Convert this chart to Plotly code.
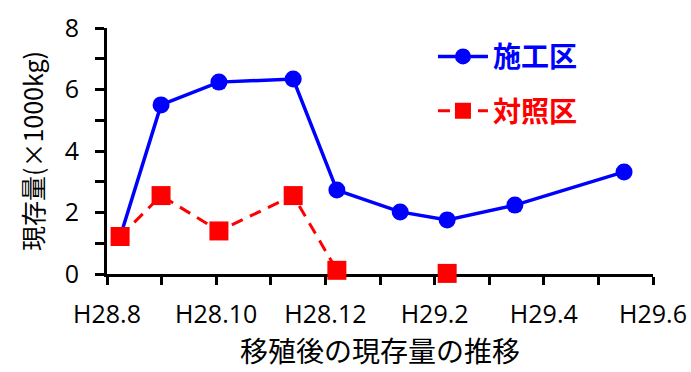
import plotly.graph_objects as go

# Survey timing, in months elapsed since H28.8
months_treated = [0.24, 0.99, 2.05, 3.41, 4.21, 5.37, 6.23, 7.47, 9.47]
stock_treated = [1.2, 5.5, 6.24, 6.34, 2.73, 2.02, 1.76, 2.24, 3.32]

months_control = [0.24, 0.99, 2.05, 3.41, 4.21, 5.37, 6.23]
stock_control = [1.22, 2.55, 1.4, 2.55, 0.12, None, 0.02]

tick_months = list(range(0, 11))
tick_labels = ["H28.8", "", "H28.10", "", "H28.12", "", "H29.2", "", "H29.4", "", "H29.6"]

BLUE = "#0000FF"
RED = "#FF0000"
FONT = "Open Sans, Noto Sans CJK JP, sans-serif"
CJK = "Noto Sans CJK JP, sans-serif"

fig = go.Figure()

fig.add_trace(go.Scatter(
    x=months_treated, y=stock_treated, mode="lines+markers",
    name=f"<b><span style='color:{BLUE}'>施工区</span></b>",
    line=dict(color=BLUE, width=3.5),
    marker=dict(symbol="circle", size=17, color=BLUE),
    cliponaxis=False, legendgroup="a",
))
fig.add_trace(go.Scatter(
    x=months_control, y=stock_control, mode="lines+markers",
    name=f"<b><span style='color:{RED}'>対照区</span></b>",
    line=dict(color=RED, width=3, dash="12px,8px"),
    marker=dict(symbol="square", size=19, color=RED),
    cliponaxis=False, connectgaps=False, legendgroup="b",
))

fig.update_layout(
    width=691, height=372,
    margin=dict(l=107, r=38, t=28, b=98, autoexpand=False),
    paper_bgcolor="white", plot_bgcolor="white",
    font=dict(family=FONT, size=25, color="black"),
    showlegend=True,
    legend=dict(
        x=0.597, y=0.985, xanchor="left", yanchor="top",
        font=dict(family=CJK, size=28),
        itemwidth=50, tracegroupgap=15,
        bgcolor="rgba(0,0,0,0)",
    ),
    xaxis=dict(
        range=[0, 10], tickvals=tick_months, ticktext=tick_labels,
        showgrid=False, zeroline=False, automargin=False,
        showline=True, linecolor="black", linewidth=3,
        ticks="outside", ticklen=8, tickwidth=3, tickcolor="black",
        tickfont=dict(family=FONT, size=25),
        ticklabelstandoff=8,
        layer="below traces",
        title=dict(text="移殖後の現存量の推移", font=dict(family=CJK, size=28), standoff=13),
    ),
    yaxis=dict(
        range=[0, 8], tickvals=[0, 2, 4, 6, 8],
        showgrid=False, zeroline=False, automargin=False,
        showline=True, linecolor="black", linewidth=3,
        ticks="outside", ticklen=9, tickwidth=3, tickcolor="black",
        minor=dict(tickvals=[1, 3, 5, 7], ticks="outside", ticklen=9, tickwidth=3, tickcolor="black"),
        tickfont=dict(family=FONT, size=25),
        ticklabelstandoff=11,
        layer="below traces",
        title=dict(text="現存量(×1000kg)", font=dict(family=CJK, size=25), standoff=14),
    ),
)

fig.write_html("out.html")
